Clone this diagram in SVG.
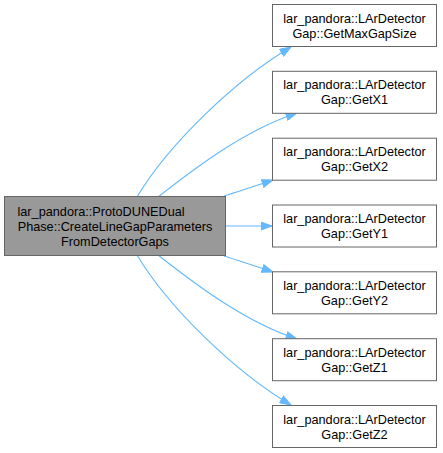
<svg xmlns="http://www.w3.org/2000/svg" width="443" height="453" viewBox="0 0 443 453">
<style>
.n rect{fill:#ffffff;stroke:#666666;stroke-width:1}
.n.main rect{fill:#999999}
.n text{font-family:"Liberation Sans",Arial,sans-serif;font-size:12.7px;fill:#000000;text-anchor:middle}
.n text.l{text-anchor:start}
.e path{fill:none;stroke:#63b8ff;stroke-width:1.1}
</style>
<defs>
<marker id="ah" markerUnits="userSpaceOnUse" viewBox="0 0 12 9" refX="11.5" refY="4.5" markerWidth="12" markerHeight="9" orient="auto">
<polygon points="0.5,0.5 11.5,4.5 0.5,8.5" fill="#63b8ff" stroke="#63b8ff"/>
</marker>
</defs>
<rect width="443" height="453" fill="#ffffff"/>
<g id="edges" class="e">
<path d="M137,197 C168,145 235,80 291,47" marker-end="url(#ah)"/>
<path d="M158,197 C195,168 245,130 297,113" marker-end="url(#ah)"/>
<path d="M224,196 C240,191 255,186 273,180" marker-end="url(#ah)"/>
<path d="M226,226 L272,226" marker-end="url(#ah)"/>
<path d="M224,256 C240,261 255,266 273,272" marker-end="url(#ah)"/>
<path d="M158,255 C195,284 245,322 297,339" marker-end="url(#ah)"/>
<path d="M137,255 C168,307 235,372 291,405" marker-end="url(#ah)"/>
</g>
<g id="node_main" class="n main">
<rect x="4.5" y="196.5" width="221" height="59"/>
<text class="l" x="17.5" y="215.5">lar_pandora::ProtoDUNEDual</text>
<text x="115" y="230.5">Phase::CreateLineGapParameters</text>
<text x="115" y="245.5">FromDetectorGaps</text>
</g>
<g id="node_getmaxgapsize" class="n">
<rect x="272.5" y="4.5" width="164" height="42"/>
<text x="354.5" y="22.5">lar_pandora::LArDetector</text>
<text x="354.5" y="37.5">Gap::GetMaxGapSize</text>
</g>
<g id="node_getx1" class="n">
<rect x="272.5" y="71.3" width="164" height="42"/>
<text x="354.5" y="89.3">lar_pandora::LArDetector</text>
<text x="354.5" y="104.3">Gap::GetX1</text>
</g>
<g id="node_getx2" class="n">
<rect x="272.5" y="138.2" width="164" height="42"/>
<text x="354.5" y="156.2">lar_pandora::LArDetector</text>
<text x="354.5" y="171.2">Gap::GetX2</text>
</g>
<g id="node_gety1" class="n">
<rect x="272.5" y="205" width="164" height="42"/>
<text x="354.5" y="223">lar_pandora::LArDetector</text>
<text x="354.5" y="238">Gap::GetY1</text>
</g>
<g id="node_gety2" class="n">
<rect x="272.5" y="271.8" width="164" height="42"/>
<text x="354.5" y="289.8">lar_pandora::LArDetector</text>
<text x="354.5" y="304.8">Gap::GetY2</text>
</g>
<g id="node_getz1" class="n">
<rect x="272.5" y="338.7" width="164" height="42"/>
<text x="354.5" y="356.7">lar_pandora::LArDetector</text>
<text x="354.5" y="371.7">Gap::GetZ1</text>
</g>
<g id="node_getz2" class="n">
<rect x="272.5" y="405.5" width="164" height="42"/>
<text x="354.5" y="423.5">lar_pandora::LArDetector</text>
<text x="354.5" y="438.5">Gap::GetZ2</text>
</g>
</svg>
